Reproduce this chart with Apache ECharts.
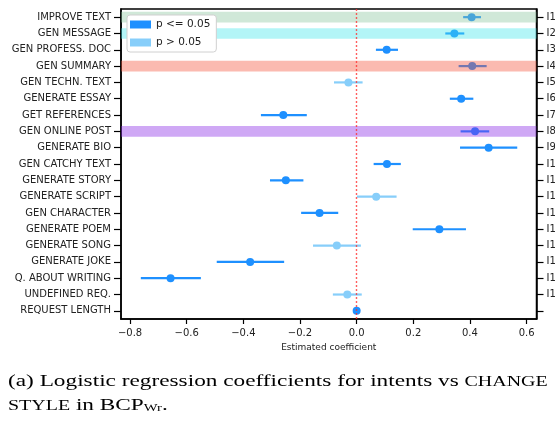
<!DOCTYPE html>
<html>
<head>
<meta charset="utf-8">
<script src="https://cdn.jsdelivr.net/npm/echarts@6/dist/echarts.min.js"></script>
<style>html,body{margin:0;padding:0;background:#fff}#c{width:555px;height:423px}</style>
</head>
<body>
<div id="c"></div>
<script>
var categories = ['IMPROVE TEXT','GEN MESSAGE','GEN PROFESS. DOC','GEN SUMMARY','GEN TECHN. TEXT','GENERATE ESSAY','GET REFERENCES','GEN ONLINE POST','GENERATE BIO','GEN CATCHY TEXT','GENERATE STORY','GENERATE SCRIPT','GEN CHARACTER','GENERATE POEM','GENERATE SONG','GENERATE JOKE','Q. ABOUT WRITING','UNDEFINED REQ.','REQUEST LENGTH'];
var coef   = [0.406, 0.345, 0.106, 0.408, -0.029, 0.369, -0.259, 0.418, 0.466, 0.107, -0.250, 0.069, -0.131, 0.292, -0.070, -0.376, -0.657, -0.033, 0.000];
var ciLow  = [0.376, 0.313, 0.068, 0.360, -0.080, 0.329, -0.338, 0.367, 0.365, 0.060, -0.306, 0.001, -0.196, 0.198, -0.154, -0.494, -0.762, -0.084, -0.004];
var ciHigh = [0.439, 0.380, 0.146, 0.459, 0.021, 0.412, -0.176, 0.468, 0.567, 0.156, -0.188, 0.141, -0.065, 0.386, 0.015, -0.256, -0.550, 0.018, 0.004];
var significant = [1,1,1,1,0,1,1,1,1,1,1,0,1,1,0,1,1,0,1];
var rightLabels = ['I1','I2','I3','I4','I5','I6','I7','I8','I9','I10','I11','I12','I13','I14','I15','I16','I17','I18',''];
var xTicks = [-0.8, -0.6, -0.4, -0.2, 0.0, 0.2, 0.4, 0.6];
var highlightRows = ['IMPROVE TEXT','GEN MESSAGE','GEN SUMMARY','GEN ONLINE POST'];

var bandColors = {
  'IMPROVE TEXT': 'rgba(138,198,158,0.4)',
  'GEN MESSAGE': 'rgba(65,230,235,0.4)',
  'GEN SUMMARY': 'rgba(245,83,58,0.4)',
  'GEN ONLINE POST': 'rgba(135,38,230,0.4)'
};
var SIG = '#1e90ff', NSIG = '#87cefa';

function groupData(flag) {
  var pts = [], bars = [];
  for (var i = 0; i < categories.length; i++) {
    if (significant[i] === flag) {
      pts.push([coef[i], categories[i]]);
      bars.push([ciLow[i], ciHigh[i], categories[i]]);
    }
  }
  return {pts: pts, bars: bars};
}
var gs = groupData(1), gn = groupData(0);

function errRender(color) {
  return function (params, api) {
    var a = api.coord([api.value(0), api.value(2)]);
    var b = api.coord([api.value(1), api.value(2)]);
    return {type: 'line', shape: {x1: a[0], y1: a[1], x2: b[0], y2: b[1]},
            style: {stroke: color, lineWidth: 2.2}};
  };
}

var font = 'DejaVu Sans';
var serif = 'Liberation Serif';
var chart = echarts.init(document.getElementById('c'), null, {renderer: 'canvas'});
chart.setOption({
  animation: false,
  grid: {left: 121, right: 18.5, top: 9, bottom: 104, show: true, borderColor: '#000', borderWidth: 1.5,
         backgroundColor: 'transparent', containLabel: false, outerBoundsMode: 'none'},
  legend: {
    orient: 'vertical', left: 127, top: 15, z: 10,
    data: ['p <= 0.05', 'p > 0.05'],
    icon: 'rect', itemWidth: 21, itemHeight: 8, itemGap: 7,
    padding: [4, 6, 4, 3],
    backgroundColor: '#fff', borderColor: '#d0d0d0', borderWidth: 1, borderRadius: 3,
    textStyle: {fontFamily: font, fontSize: 10.5, color: '#222'}
  },
  xAxis: {
    type: 'value', min: -0.832, max: 0.635,
    name: 'Estimated coefficient', nameLocation: 'middle', nameGap: 21,
    nameTextStyle: {fontFamily: font, fontSize: 9, color: '#222'},
    axisLine: {show: true, onZero: false, lineStyle: {color: '#000', width: 1.5}},
    axisTick: {show: true, length: 5, lineStyle: {color: '#000', width: 1.2}, customValues: xTicks},
    axisLabel: {fontFamily: font, fontSize: 10, color: '#222', margin: 9, customValues: xTicks,
      formatter: function (v) { var s = v.toFixed(1); return s.replace('-', '\u2212'); }},
    splitLine: {show: false}
  },
  yAxis: [{
    type: 'category', data: categories, inverse: true,
    axisLine: {show: true, onZero: false, lineStyle: {color: '#000', width: 1.5}},
    axisTick: {show: true, length: 7, alignWithLabel: true, lineStyle: {color: '#000', width: 1.2}},
    axisLabel: {fontFamily: font, fontSize: 10, color: '#222', margin: 10},
    splitLine: {show: false}
  }, {
    type: 'category', data: rightLabels, inverse: true, position: 'right',
    axisLine: {show: true, onZero: false, lineStyle: {color: '#000', width: 1.5}},
    axisTick: {show: true, length: 7, alignWithLabel: true, lineStyle: {color: '#000', width: 1.2}},
    axisLabel: {fontFamily: font, fontSize: 10, color: '#222', margin: 10},
    splitLine: {show: false}
  }],
  series: [
    {name: 'bars_sig', type: 'custom', renderItem: errRender(SIG), data: gs.bars, encode: {x: [0, 1], y: 2}, z: 2, silent: true},
    {name: 'bars_ns', type: 'custom', renderItem: errRender(NSIG), data: gn.bars, encode: {x: [0, 1], y: 2}, z: 2, silent: true},
    {name: 'p <= 0.05', type: 'scatter', data: gs.pts, symbolSize: 8, itemStyle: {color: SIG, opacity: 1}, z: 2},
    {name: 'p > 0.05', type: 'scatter', data: gn.pts, symbolSize: 8, itemStyle: {color: NSIG, opacity: 1}, z: 2},
    {name: 'zero', type: 'scatter', data: [], z: 3,
      markLine: {silent: true, symbol: 'none', label: {show: false},
        lineStyle: {color: 'rgba(255,40,40,0.75)', type: [2, 2], width: 1.4},
        data: [{xAxis: 0}]}},
    {name: 'bands', type: 'custom', z: 4, silent: true,
      data: highlightRows.map(function (c) { return [c]; }),
      encode: {y: 0},
      renderItem: function (params, api) {
        var cat = api.value(0);
        var p = api.coord([0, cat]);
        var h = api.size([0, 1])[1] * 0.65;
        var cs = params.coordSys;
        return {type: 'rect', shape: {x: cs.x, y: p[1] - h / 2, width: cs.width, height: h},
                style: {fill: bandColors[categories[cat]] || bandColors[cat]}};
      }}
  ],
  graphic: [{
    type: 'text', x: 8, y: 366, scaleX: 1.33, scaleY: 1,
    style: {
      text: '{n|(a) Logistic regression coefficients for intents vs }{sc|CHANGE}\n{sc|STYLE}{n| in BCP}{sub|Wr}{n|.}',
      fill: '#000',
      rich: {
        n: {fontFamily: serif, fontSize: 17.5, lineHeight: 24, fill: '#000', verticalAlign: 'bottom'},
        sc: {fontFamily: serif, fontSize: 15, lineHeight: 22.4, fill: '#000', verticalAlign: 'bottom'},
        sub: {fontFamily: serif, fontSize: 11, lineHeight: 13.3, fill: '#000', verticalAlign: 'bottom'}
      }
    }
  }]
});
</script>
</body>
</html>
